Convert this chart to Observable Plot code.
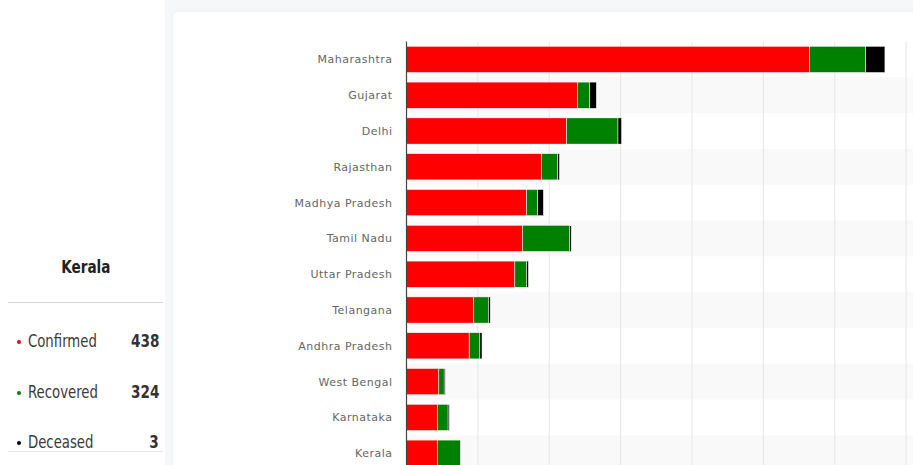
<!DOCTYPE html>
<html>
<head>
<meta charset="utf-8">
<script src="https://cdn.jsdelivr.net/npm/d3@7"></script>
<script src="https://cdn.jsdelivr.net/npm/@observablehq/plot@0.6"></script>
<style>
  html, body { margin: 0; padding: 0; width: 913px; height: 465px; overflow: hidden; background: #ffffff; }
  #gap { position: absolute; left: 165px; top: 0; width: 748px; height: 465px; background: #f6f7f9; }
  #card { position: absolute; left: 173px; top: 12px; width: 820px; height: 480px; background: #fff;
          border-radius: 5px; box-shadow: 0 0 4px rgba(0,0,0,0.06); overflow: hidden; }
  #card svg { max-width: none !important; display: block; }
  #card svg text { font-family: "DejaVu Sans", Verdana, sans-serif; letter-spacing: 0.5px; }
  #side { position: absolute; left: 0; top: 0; width: 165px; height: 465px; background: #fff;
          font-family: "DejaVu Sans", sans-serif; color: #333; }
  #side .title { position: absolute; left: 0; width: 172px; top: 257px; text-align: center; }
  #side .title span { display: inline-block; font-weight: bold; font-size: 17px; color: #222; transform: scaleX(0.8); }
  #side .sep { position: absolute; left: 8px; width: 155px; top: 302px; border-top: 1.5px solid #d6d6d6; }
  #side .row { position: absolute; left: 15px; width: 144px; font-size: 17px; height: 22px; }
  #side .row .dot { position: absolute; left: 2px; top: 9px; width: 4px; height: 4px; border-radius: 2px; }
  #side .row .lab { position: absolute; left: 13px; top: 0; transform: scaleX(0.78); transform-origin: left center; color: #3a3a3a; }
  #side .row .val { position: absolute; right: 0; top: 0; font-weight: bold; color: #333; transform: scaleX(0.8); transform-origin: right center; }
  #side .bottom { position: absolute; left: 8px; width: 155px; top: 451px; border-top: 1px solid #e6e6e6; }
</style>
</head>
<body>
<div id="gap"></div>
<div id="side"></div>
<div id="card"></div>
<script>
const states = ["Maharashtra","Gujarat","Delhi","Rajasthan","Madhya Pradesh","Tamil Nadu","Uttar Pradesh","Telangana","Andhra Pradesh","West Bengal","Karnataka","Kerala"];
const confirmed = [5650, 2400, 2250, 1900, 1690, 1630, 1525, 950, 885, 460, 440, 438];
const recovered = [790, 172, 720, 225, 155, 665, 165, 205, 150, 75, 150, 324];
const deceased  = [270, 95, 50, 25, 80, 20, 25, 25, 30, 15, 17, 3];
const types = ["Confirmed","Recovered","Deceased"];
const colors = ["#ff0000","#008000","#000000"];
const gridTicks = [1000,2000,3000,4000,5000,6000,7000,8000];

const selected = "Kerala";
const selIdx = states.indexOf(selected);
const selValues = [confirmed[selIdx], recovered[selIdx], deceased[selIdx]];

// side panel
const side = document.getElementById("side");
side.innerHTML = `<div class="title"><span>${selected}</span></div><div class="sep"></div>` +
  types.map((t,i) => `<div class="row" style="top:${331 + i*50.5}px"><span class="dot" style="background:${colors[i]}"></span><span class="lab">${t}</span><span class="val">${selValues[i]}</span></div>`).join("") +
  `<div class="bottom"></div>`;

const data = [];
states.forEach((s,i) => {
  data.push({state: s, type: "Confirmed", value: confirmed[i]});
  data.push({state: s, type: "Recovered", value: recovered[i]});
  data.push({state: s, type: "Deceased", value: deceased[i]});
});

const chart = Plot.plot({
  width: 804,
  height: 459.1,
  marginLeft: 233,
  marginRight: 0,
  marginTop: 29.5,
  marginBottom: 0,
  style: {maxWidth: "none"},
  x: {domain: [0, 8000], axis: null},
  y: {domain: states, padding: 0, round: false, label: null},
  color: {domain: types, range: colors},
  marks: [
    Plot.barX(states.filter((d,i) => i % 2 === 1), {x1: 0, x2: 8000, y: d => d, fill: "#f9f9f9"}),
    Plot.ruleX(gridTicks, {stroke: "#e6e6e6", strokeWidth: 1}),
    Plot.barX(data, Plot.stackX({x: "value", y: "state", fill: "type", insetTop: 4.8, insetBottom: 4.8, stroke: "#fff", strokeWidth: 0.5})),
    Plot.ruleX([0], {stroke: "#444", strokeWidth: 1.2}),
    Plot.axisY({tickSize: 0, tickPadding: 14, fontSize: 11, fill: "#666", label: null})
  ]
});
document.getElementById("card").appendChild(chart);
</script>
</body>
</html>
